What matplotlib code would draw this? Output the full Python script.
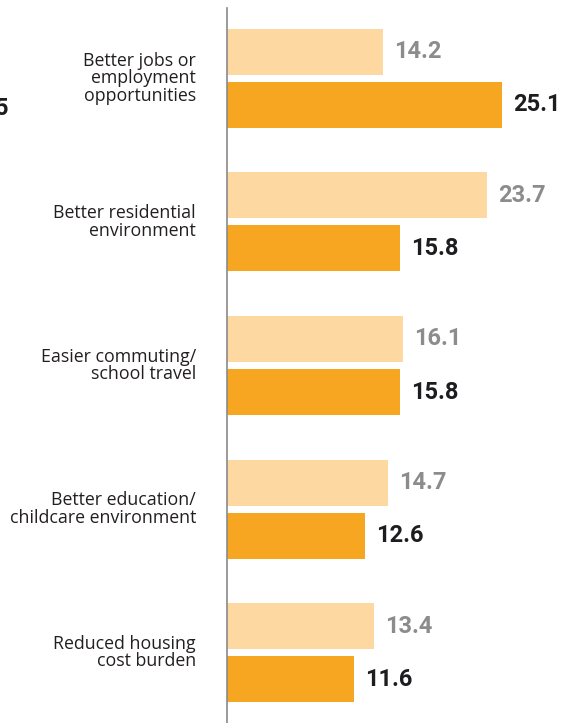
import matplotlib
matplotlib.use("Agg")
import matplotlib.pyplot as plt
import numpy as np

categories = ["Better jobs or\nemployment\nopportunities",
              "Better residential\nenvironment",
              "Easier commuting/\nschool travel",
              "Better education/\nchildcare environment",
              "Reduced housing\ncost burden"]
series_light = [14.2, 23.7, 16.1, 14.7, 13.4]
series_orange = [25.1, 15.8, 15.8, 12.6, 11.6]

W, H = 562, 723
fig = plt.figure(figsize=(W/100, H/100), dpi=100)
ax = fig.add_axes([227/W, 0, 1 - 227/W, (H - 8)/H])

y = np.arange(len(categories))
bh = 46/143.5
off = 26.5/143.5
light_c = "#FDD8A0"
orange_c = "#F6A620"

ax.barh(y - off, series_light, height=bh, color=light_c, linewidth=0)
ax.barh(y + off, series_orange, height=bh, color=orange_c, linewidth=0)

ax.set_xlim(0, (W - 227)/10.96)
ax.set_ylim(len(categories) - 1 + 0.491, -0.491)

for s in ["top", "right", "bottom"]:
    ax.spines[s].set_visible(False)
ax.spines["left"].set_color("#8a8a8a")
ax.spines["left"].set_linewidth(1.2)
ax.set_xticks([])
ax.set_yticks([])

valfont = dict(family="Roboto", fontweight="bold", fontsize=17)
for yi, v in zip(y, series_light):
    ax.text(v + 1.0, yi - off, f"{v:.1f}", va="center", ha="left",
            color="#8C8C8E", **valfont)
for yi, v in zip(y, series_orange):
    ax.text(v + 1.0, yi + off, f"{v:.1f}", va="center", ha="left",
            color="#1d1d1f", **valfont)

for yi, c in zip(y, categories):
    ax.text(-31/10.96, yi, c, ha="right", va="center", multialignment="right",
            fontsize=12.8, family="Open Sans", color="#231f20", linespacing=0.98)

fig.text(8/W, 1 - 115/H, "5", ha="right", va="baseline", color="#1d1d1f", **valfont)

fig.savefig("out.png", dpi=100)
